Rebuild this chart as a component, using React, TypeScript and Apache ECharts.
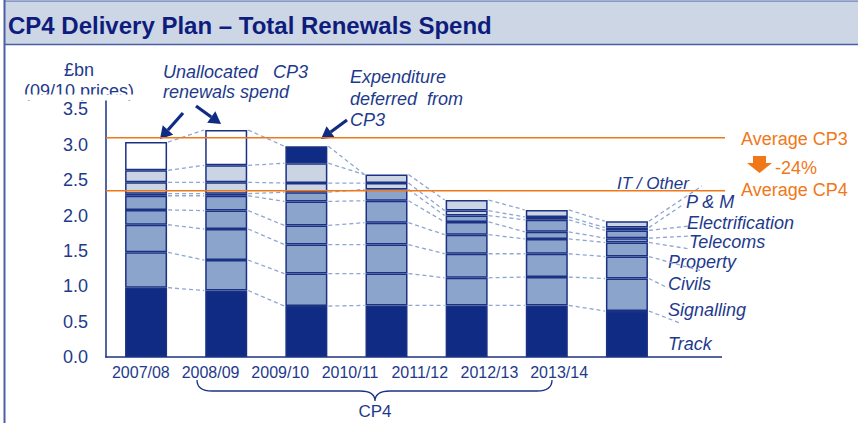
import React, { useEffect, useRef } from 'react';
import * as echarts from 'echarts';

// ---------------- DATA ----------------
const categories = ['2007/08', '2008/09', '2009/10', '2010/11', '2011/12', '2012/13', '2013/14'];
const track = [0.98, 0.94, 0.72, 0.73, 0.73, 0.73, 0.65];
const signalling = [0.5, 0.43, 0.46, 0.45, 0.39, 0.4, 0.46];
const civils = [0.39, 0.44, 0.41, 0.41, 0.34, 0.33, 0.31];
const property = [0.21, 0.26, 0.27, 0.31, 0.27, 0.21, 0.2];
const telecoms = [0.2, 0.21, 0.34, 0.31, 0.18, 0.1, 0.06];
const electrification = [0.03, 0.03, 0.13, 0.16, 0.09, 0.17, 0.11];
const plantMachinery = [0.16, 0.16, 0.13, 0.09, 0.07, 0.04, 0.04];
const itOther = [0.17, 0.24, 0.28, 0.12, 0.15, 0.1, 0.09];
const unallocatedCP3 = [0.4, 0.5, null, null, null, null, null];
const deferredFromCP3 = [null, null, 0.24, null, null, null, null];
const averageCP3 = 3.1;
const averageCP4 = 2.35;
const changeLabel = '-24%';
const yMax = 3.62;
const yInterval = 0.5;

// ---------------- STYLE ----------------
const NAVY = '#1B3284';
const DARK = '#0F2B84';
const MID = '#8AA4CC';
const LIGHT = '#CBD4E2';
const DASH = '#8EA7D1';
const ORANGE = '#F07818';
const TEXT = '#1E3A8C';
const TITLE = '#0E1C7D';
const FONT = '"Liberation Sans", Arial, sans-serif';
const BAR_W = 42;

const stackDefs = [
  { name: 'Track', data: track, color: DARK },
  { name: 'Signalling', data: signalling, color: MID },
  { name: 'Civils', data: civils, color: MID },
  { name: 'Property', data: property, color: MID },
  { name: 'Telecoms', data: telecoms, color: MID },
  { name: 'Electrification', data: electrification, color: MID },
  { name: 'P & M', data: plantMachinery, color: LIGHT },
  { name: 'IT / Other', data: itOther, color: LIGHT },
  { name: 'Unallocated CP3 renewals spend', data: unallocatedCP3, color: '#FFFFFF' },
  { name: 'Expenditure deferred from CP3', data: deferredFromCP3, color: DARK },
];

// cumulative tops per series
const cum: number[][] = [];
{
  let run = categories.map(() => 0);
  stackDefs.forEach((s) => {
    run = run.map((r, i) => r + ((s.data[i] as number | null) ?? 0));
    cum.push(run.slice());
  });
}

// dashed connectors between consecutive bars
const connectorData: number[][] = [];
for (let k = 0; k < 8; k++) {
  for (let i = 0; i < categories.length - 1; i++) {
    connectorData.push([i, cum[k][i], cum[k][i + 1]]);
  }
}
const total = cum[cum.length - 1];
for (let i = 0; i < 3; i++) connectorData.push([i, total[i], total[i + 1]]);

// leader lines from the last bar to the right-hand labels (label anchor pixels)
const last = categories.length - 1;
const leaderData = [7, 6, 5, 4, 3, 2, 1, 0].map((k) => [last, cum[k][last]]);
const LEADER_ENDS = [
  [702, 186],
  [684, 204],
  [690, 226],
  [690, 236],
  [690, 249],
  [702, 271],
  [668, 288],
  [680, 323],
];

const rightLabels = [
  { text: 'IT / Other', x: 617, y: 183, size: 17 },
  { text: 'P & M', x: 686, y: 202, size: 18 },
  { text: 'Electrification', x: 687, y: 223, size: 18 },
  { text: 'Telecoms', x: 689, y: 242, size: 18 },
  { text: 'Property', x: 668, y: 262, size: 18 },
  { text: 'Civils', x: 668, y: 284, size: 18 },
  { text: 'Signalling', x: 668, y: 310, size: 18 },
  { text: 'Track', x: 668, y: 344, size: 18 },
];

echarts.graphic.registerShape(
  'brace',
  echarts.graphic.extendPath('M0 0 Q0 11 15 11 L163 11 Q178 11 178 21 Q178 11 193 11 L340 11 Q355 11 355 0', {}) as any
);

function arrow(x1: number, y1: number, x2: number, y2: number, color: string) {
  const dx = x2 - x1;
  const dy = y2 - y1;
  const len = Math.sqrt(dx * dx + dy * dy);
  const ux = dx / len;
  const uy = dy / len;
  const hl = 12;
  const hw = 7;
  const bx = x2 - ux * hl;
  const by = y2 - uy * hl;
  const nx = -uy;
  const ny = ux;
  return [
    { type: 'line', shape: { x1, y1, x2: bx, y2: by }, style: { stroke: color, lineWidth: 3.2 } },
    {
      type: 'polygon',
      shape: { points: [[x2, y2], [bx + nx * hw, by + ny * hw], [bx - nx * hw, by - ny * hw]] },
      style: { fill: color },
    },
  ];
}

function txt(text: string, x: number, y: number, opts: any = {}) {
  return {
    type: 'text',
    x,
    y,
    style: {
      text,
      fill: opts.fill ?? TEXT,
      fontSize: opts.size ?? 18,
      fontFamily: FONT,
      fontStyle: opts.italic ? 'italic' : 'normal',
      fontWeight: opts.bold ? 'bold' : 'normal',
      align: opts.align ?? 'left',
      verticalAlign: 'middle',
    },
  };
}

const option: any = {
  animation: false,
  backgroundColor: '#FFFFFF',
  grid: [
    { left: 106, right: 191, top: 101, bottom: 66 },
    { left: 106, width: 488, top: 101, bottom: 66 },
  ],
  xAxis: [
    {
      type: 'category',
      gridIndex: 0,
      data: categories,
      axisLine: { show: false },
      axisTick: { show: false },
      axisLabel: { show: false },
    },
    {
      type: 'category',
      gridIndex: 1,
      data: categories,
      axisLine: { show: false },
      axisTick: { show: false },
      axisLabel: { color: TEXT, fontSize: 16, fontFamily: FONT, margin: 7, interval: 0, hideOverlap: false },
    },
  ],
  yAxis: [
    {
      type: 'value',
      gridIndex: 0,
      min: 0,
      max: yMax,
      interval: yInterval,
      axisLine: { show: true, lineStyle: { color: NAVY, width: 1.5 } },
      axisTick: { show: false },
      splitLine: { show: false },
      axisLabel: {
        color: TEXT,
        fontSize: 18,
        fontFamily: FONT,
        margin: 18,
        formatter: (v: number) => (v > 3.55 ? '' : v.toFixed(1)),
      },
    },
    { type: 'value', gridIndex: 1, show: false, min: 0, max: 1 },
  ],
  series: [
    ...stackDefs.map((s) => ({
      type: 'bar',
      name: s.name,
      stack: 'total',
      xAxisIndex: 0,
      yAxisIndex: 0,
      data: s.data,
      barWidth: BAR_W,
      itemStyle: { color: s.color, borderColor: NAVY, borderWidth: 1.5 },
      z: 3,
      silent: true,
    })),
    {
      type: 'custom',
      name: 'connectors',
      xAxisIndex: 0,
      yAxisIndex: 0,
      clip: false,
      z: 1,
      silent: true,
      data: connectorData,
      encode: { x: 0, y: [1, 2] },
      renderItem: (params: any, api: any) => {
        const i = api.value(0) as number;
        const a = api.coord([i, api.value(1)]);
        const b = api.coord([i + 1, api.value(2)]);
        return {
          type: 'line',
          shape: { x1: a[0] + BAR_W / 2 + 1, y1: a[1], x2: b[0] - BAR_W / 2 - 1, y2: b[1] },
          style: { stroke: DASH, lineWidth: 1.3, lineDash: [4, 3] },
        };
      },
    },
    {
      type: 'custom',
      name: 'leaders',
      xAxisIndex: 0,
      yAxisIndex: 0,
      clip: false,
      z: 1,
      silent: true,
      data: leaderData,
      encode: { x: 0, y: 1 },
      renderItem: (params: any, api: any) => {
        const a = api.coord([api.value(0), api.value(1)]);
        const e = LEADER_ENDS[params.dataIndex];
        return {
          type: 'line',
          shape: { x1: a[0] + BAR_W / 2 + 1, y1: a[1], x2: e[0], y2: e[1] },
          style: { stroke: DASH, lineWidth: 1.3, lineDash: [4, 3] },
        };
      },
    },
    {
      type: 'custom',
      name: 'averages',
      xAxisIndex: 0,
      yAxisIndex: 0,
      clip: false,
      z: 6,
      silent: true,
      data: [[0, averageCP3], [0, averageCP4]],
      encode: { x: 0, y: 1 },
      renderItem: (params: any, api: any) => {
        const p = api.coord([0, api.value(1)]);
        const cs = params.coordSys;
        return {
          type: 'line',
          shape: { x1: cs.x, y1: p[1], x2: 725, y2: p[1] },
          style: { stroke: ORANGE, lineWidth: 1.6 },
        };
      },
    },
    {
      type: 'custom',
      name: 'baseline',
      xAxisIndex: 0,
      yAxisIndex: 0,
      clip: false,
      z: 6,
      silent: true,
      data: [[0, 0]],
      encode: { x: 0, y: 1 },
      renderItem: (params: any, api: any) => {
        const p = api.coord([0, 0]);
        const cs = params.coordSys;
        return {
          type: 'line',
          shape: { x1: cs.x - 0.75, y1: p[1], x2: 722, y2: p[1] },
          style: { stroke: NAVY, lineWidth: 1.5 },
        };
      },
    },
  ],
  graphic: [
    { type: 'rect', shape: { x: 5, y: 1, width: 853, height: 43 }, style: { fill: '#CDD6E5' } },
    { type: 'line', shape: { x1: 5, y1: 1, x2: 858, y2: 1 }, style: { stroke: '#4A5FA6', lineWidth: 1 } },
    { type: 'line', shape: { x1: 5, y1: 44.5, x2: 858, y2: 44.5 }, style: { stroke: '#4A5FA6', lineWidth: 1.5 } },
    { type: 'line', shape: { x1: 4.5, y1: 0, x2: 4.5, y2: 423 }, style: { stroke: '#4A5FA6', lineWidth: 2 } },
    txt('CP4 Delivery Plan \u2013 Total Renewals Spend', 8, 25, { size: 24, bold: true, fill: TITLE }),
    txt('\u00A3bn', 79, 70, { align: 'center' }),
    txt('(09/10 prices)', 79, 91, { align: 'center' }),
    { type: 'rect', shape: { x: 10, y: 94.5, width: 130, height: 6 }, style: { fill: '#FFFFFF' } },
    txt('Unallocated   CP3', 163, 72, { italic: true }),
    txt('renewals spend', 163, 92, { italic: true }),
    txt('Expenditure', 350, 77, { italic: true }),
    txt('deferred  from', 350, 99, { italic: true }),
    txt('CP3', 350, 120, { italic: true }),
    ...arrow(183, 113, 160, 139, DARK),
    ...arrow(196, 106, 221, 124, DARK),
    ...arrow(347, 120, 321, 139, DARK),
    txt('Average CP3', 741, 139, { fill: ORANGE }),
    txt(changeLabel, 775, 168, { fill: ORANGE }),
    txt('Average CP4', 741, 190, { fill: ORANGE }),
    {
      type: 'polygon',
      shape: { points: [[753, 156], [766, 156], [766, 163], [772, 163], [759.5, 173], [747, 163], [753, 163]] },
      style: { fill: ORANGE },
    },
    ...rightLabels.map((l) => txt(l.text, l.x, l.y, { italic: true, size: l.size })),
    {
      type: 'brace',
      x: 197,
      y: 380,
      style: { stroke: NAVY, fill: 'none', lineWidth: 1.3 },
    },
    txt('CP4', 375, 411, { align: 'center', size: 17 }),
  ],
};

export default function App() {
  const ref = useRef<HTMLDivElement>(null);
  useEffect(() => {
    document.body.style.margin = '0';
    const chart = echarts.init(ref.current!, undefined, { renderer: 'svg' });
    chart.setOption(option);
    return () => chart.dispose();
  }, []);
  return (
    <div
      ref={ref}
      style={{ position: 'absolute', left: 0, top: 0, width: 858, height: 423, background: '#FFFFFF' }}
    />
  );
}
